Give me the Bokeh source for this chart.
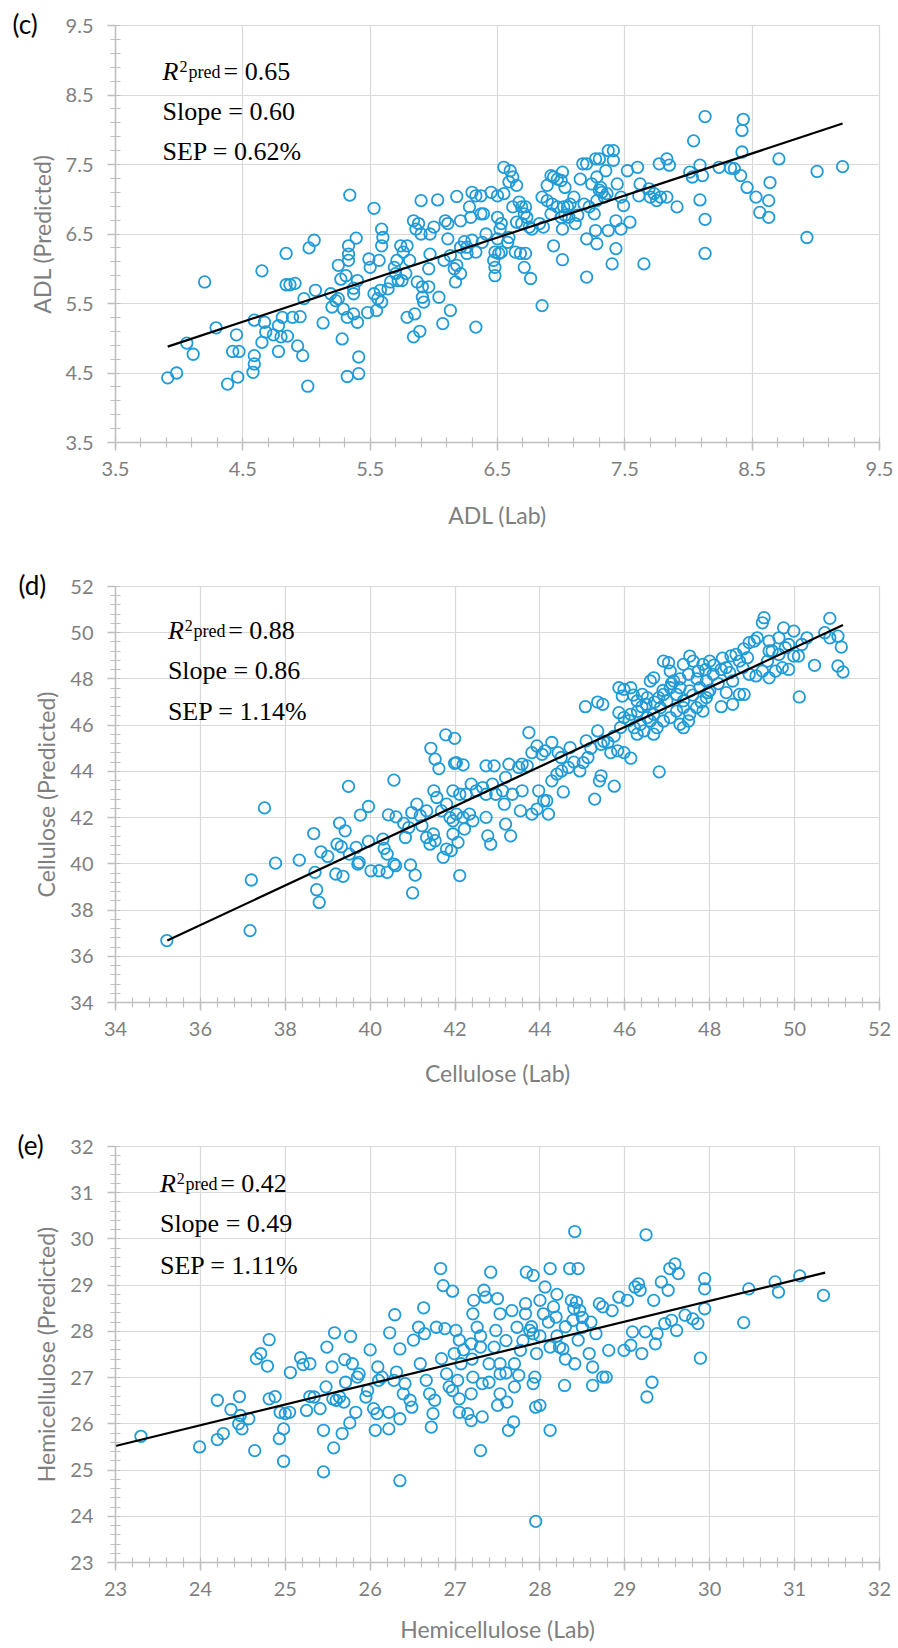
import numpy as np
from bokeh.plotting import figure
from bokeh.layouts import column
from bokeh.models import FixedTicker, Label, Range1d
from bokeh.embed import file_html
from bokeh.resources import INLINE

# ---------------- data: panel (c) ADL ----------------
c_lab = [3.91,3.98,4.06,4.11,4.20,4.29,4.38,4.46,4.42,4.47,
         4.45,4.58,4.59,4.59,4.59,4.65,4.65,4.67,4.68,4.74,
         4.78,4.80,4.81,4.85,4.84,4.84,4.87,4.91,4.78,4.89,
         4.95,4.93,4.97,5.01,4.98,5.02,5.06,5.07,5.13,5.20,
         5.23,5.19,5.25,5.25,5.27,5.31,5.33,5.33,5.33,5.39,
         5.34,5.28,5.29,5.32,5.37,5.40,5.32,5.41,5.41,5.37,
         5.40,5.37,5.48,5.53,5.49,5.50,5.57,5.53,5.56,5.58,
         5.55,5.59,5.59,5.60,5.59,5.64,5.66,5.70,5.71,5.74,
         5.76,5.79,5.81,5.69,5.72,5.75,5.78,5.79,5.85,5.84,
         5.89,5.90,5.84,5.88,5.86,5.90,5.87,5.91,5.96,5.91,
         5.92,5.97,6.00,5.97,5.96,6.03,6.04,6.07,6.09,6.11,
         6.11,6.08,6.13,6.16,6.18,6.21,6.17,6.13,6.18,6.21,
         6.24,6.21,
         6.26,6.28,6.30,6.33,6.37,6.29,6.37,6.39,6.41,6.38,
         6.33,6.26,6.30,6.45,6.50,6.55,6.55,6.60,6.62,6.65,
         6.59,6.33,6.50,6.53,6.52,6.50,6.48,6.51,6.47,6.48,
         6.48,6.53,6.59,6.58,6.62,6.67,6.69,6.72,6.71,6.73,
         6.65,6.69,6.75,6.77,6.83,6.85,6.86,6.64,6.68,6.72,
         6.71,6.76,6.94,7.01,6.85,6.89,6.92,6.94,6.97,7.00,
         7.01,7.03,6.89,6.93,6.97,7.02,7.05,7.07,7.10,6.92,
         7.00,7.03,7.01,7.06,7.11,7.13,7.15,7.17,7.20,7.24,
         7.27,7.30,7.28,7.35,7.37,7.41,7.41,7.31,7.32,7.34,
         7.36,7.30,7.28,7.18,7.22,7.26,7.27,7.20,7.28,7.37,
         7.44,7.47,7.49,7.43,7.47,7.43,7.40,7.20,7.54,7.52,
         7.60,7.62,7.61,7.69,7.70,7.73,7.75,7.78,7.77,7.83,
         7.85,7.83,7.91,7.65,8.04,8.13,8.01,8.03,8.09,8.11,
         8.09,8.13,8.13,8.24,8.33,8.36,8.41,8.42,8.42,8.43,
         8.46,8.53,8.56,8.63,8.63,8.64,8.71,8.93,9.01,9.21]
c_pred = [4.43,4.50,4.93,4.77,5.81,5.15,4.34,4.44,4.81,4.81,
          5.05,4.51,4.63,4.75,5.26,5.97,4.94,5.23,5.09,5.05,
          5.18,5.02,5.30,5.03,6.22,5.77,5.77,5.79,4.81,5.30,
          5.31,4.89,4.75,4.31,5.57,6.30,6.41,5.69,5.22,5.45,
          5.54,5.64,5.57,6.05,5.85,5.90,6.12,6.33,6.21,6.44,
          7.06,4.99,5.42,5.30,5.35,5.23,4.45,4.49,4.73,5.72,
          5.83,5.64,5.37,6.87,6.14,6.02,6.12,5.64,5.57,5.69,
          5.40,5.52,6.57,6.45,6.33,5.71,5.81,5.93,6.12,6.33,
          6.24,6.33,6.12,6.02,5.83,5.83,5.93,5.30,5.35,5.02,
          5.10,6.98,6.69,6.65,6.57,6.50,5.81,5.74,5.74,5.59,
          5.52,6.50,6.60,6.21,6.00,6.99,5.59,5.21,6.69,6.65,
          6.43,6.12,6.19,6.00,6.05,5.93,5.81,5.40,7.04,6.69,
          6.39,6.31,
          6.31,6.89,7.10,7.05,7.05,6.74,6.79,6.79,6.50,6.38,
          6.24,6.22,6.41,7.10,7.05,7.08,7.46,7.41,7.32,7.20,
          7.25,5.16,6.74,6.65,6.57,6.43,6.24,6.22,6.12,6.02,
          5.90,6.24,6.45,6.38,6.89,6.96,6.89,6.89,6.79,6.74,
          6.67,6.65,6.60,6.57,6.65,7.03,6.60,6.24,6.22,6.22,
          6.02,5.86,6.33,6.13,5.47,7.20,7.34,7.32,7.29,7.27,
          7.39,7.17,6.98,6.93,6.89,6.89,6.89,6.93,7.03,6.79,
          6.74,6.77,6.57,6.74,6.65,6.77,7.29,7.51,7.51,7.22,
          7.58,7.58,7.32,7.41,7.70,7.70,7.56,7.17,7.10,7.03,
          7.08,7.13,6.98,6.93,6.89,6.79,6.55,6.43,6.36,6.55,
          7.22,7.03,6.91,6.69,6.57,6.29,6.07,5.88,6.67,7.41,
          7.46,7.22,7.05,7.15,7.03,7.08,6.98,7.03,7.51,7.58,
          7.49,7.03,6.89,6.07,7.84,8.19,7.39,7.32,7.49,7.34,
          6.99,6.71,6.22,7.46,7.45,7.44,7.34,7.68,7.99,8.15,
          7.17,7.03,6.81,6.74,6.98,7.24,7.58,6.45,7.40,7.47]
c_fit_lab = [3.91, 9.21]
c_fit_pred = [4.88, 8.09]
c_ticks = [3.5, 4.5, 5.5, 6.5, 7.5, 8.5, 9.5]
c_tick_labels = ["3.5", "4.5", "5.5", "6.5", "7.5", "8.5", "9.5"]
c_stats = ["0.65", "0.60", "0.62%"]

# ---------------- data: panel (d) Cellulose ----------------
d_lab = [35.21,37.17,37.20,37.51,37.77,38.33,38.67,38.70,38.74,38.80,
         38.84,39.00,39.19,39.36,39.22,39.28,39.41,39.49,39.32,39.51,
         39.67,39.71,39.74,39.77,39.96,39.96,40.02,40.21,40.40,40.33,
         40.40,40.56,40.60,40.43,40.61,40.56,40.30,40.95,41.06,41.00,
         40.83,40.91,40.79,40.98,41.10,41.18,41.22,41.33,41.33,41.41,
         41.49,41.53,41.43,41.53,41.62,41.50,41.57,41.72,41.80,41.91,
         41.68,41.80,41.88,41.95,41.78,41.99,41.99,
         42.03,42.19,41.95,42.11,42.03,42.19,42.34,42.42,41.95,42.07,
         42.11,42.22,42.26,42.38,42.50,42.65,42.73,42.73,42.77,42.84,
         42.73,42.92,42.88,42.96,43.12,43.19,43.27,43.19,43.31,43.16,
         43.35,43.50,43.58,43.74,43.70,43.81,43.93,44.05,44.12,44.28,
         44.43,43.58,43.54,43.81,43.93,43.97,44.09,44.20,44.16,44.28,
         44.40,44.51,44.55,44.71,44.67,44.94,45.02,45.09,45.13,45.36,
         45.44,45.60,45.67,45.75,45.83,45.98,46.14,45.29,45.40,45.44,
         45.75,45.07,45.36,45.48,46.81,
         45.86,45.98,46.14,45.94,45.86,45.98,46.14,46.29,46.41,46.53,
         46.60,46.68,46.80,46.91,47.03,47.07,47.15,47.30,47.38,47.53,
         47.61,47.73,47.84,48.00,48.08,47.92,47.77,47.53,47.38,47.22,
         46.99,46.84,46.68,46.53,46.37,46.22,46.29,46.45,46.68,46.91,
         47.07,47.22,47.38,47.53,47.69,47.84,47.92,47.96,47.38,47.50,
         47.30,46.60,46.76,47.07,46.91,
         48.27,48.39,48.47,48.54,48.62,48.70,48.78,48.89,48.93,49.05,
         49.12,49.24,49.28,49.40,49.47,49.63,49.74,49.78,49.86,49.98,
         50.09,50.17,50.29,48.93,49.09,49.24,49.40,49.55,49.71,49.86,
         49.98,48.70,48.81,48.54,48.27,48.39,50.11,50.47,50.71,50.83,
         50.83,51.02,51.10,51.02,51.14,49.40,49.36,49.63,
         44.50,44.80,45.20,45.50,45.90,46.10,46.30,46.50,46.70,46.90,
         47.10,47.30,47.50,47.70,47.90,48.10,48.30,48.50,48.80,46.20,
         46.40,47.60,47.80,48.00,48.20]
d_pred = [36.68,37.11,39.30,42.42,40.03,40.16,41.31,39.63,38.88,38.33,
          40.52,40.32,39.56,39.46,40.85,41.76,41.43,43.35,40.74,40.42,
          40.71,39.99,40.06,42.11,42.48,40.97,39.70,39.70,39.63,40.67,
          40.42,39.99,39.92,42.12,42.03,43.62,41.07,39.95,39.51,38.74,
          41.14,41.57,41.75,42.22,42.58,42.08,41.65,42.29,41.14,40.85,
          41.29,41.00,45.00,44.53,44.12,43.16,42.87,40.28,40.64,40.57,
          42.29,42.58,42.00,41.86,45.58,45.43,44.35,
          44.38,44.28,43.16,43.01,42.15,42.01,42.15,41.86,41.29,40.93,
          39.49,41.50,43.01,43.45,43.16,43.30,43.01,42.01,41.21,40.85,
          44.24,44.24,43.45,43.01,43.16,43.74,44.31,41.72,41.21,42.58,
          43.01,44.17,44.31,45.68,44.24,44.81,45.10,44.74,44.89,45.25,
          44.81,43.16,42.29,42.15,42.37,43.16,42.73,42.15,42.73,43.59,
          43.88,44.02,43.11,45.03,44.17,44.02,44.38,45.32,44.60,45.75,
          45.17,45.25,44.81,45.53,44.89,44.81,44.57,42.80,43.59,43.81,
          43.36,46.80,47.00,46.90,43.98,
          47.62,47.55,47.62,47.26,46.54,46.33,46.47,47.05,47.33,47.19,
          47.91,48.05,47.19,48.77,48.70,48.34,47.91,47.62,48.63,48.99,
          48.77,48.34,48.63,48.77,48.20,47.91,47.62,47.48,47.05,47.33,
          47.05,46.76,46.47,46.33,46.04,45.89,45.61,45.75,45.61,46.18,
          46.33,46.61,46.76,46.47,46.76,46.61,47.19,47.41,45.89,46.18,
          46.04,46.18,45.89,47.62,47.33,
          48.41,48.49,48.27,47.91,49.06,48.77,48.49,48.92,49.57,49.64,
          49.78,50.43,50.65,49.64,49.21,49.78,50.21,49.35,49.49,50.07,
          48.99,49.49,49.78,48.20,48.13,48.34,48.05,48.34,48.49,48.41,
          48.99,47.33,47.33,46.90,46.80,47.41,47.22,48.59,50.00,49.78,
          50.62,49.85,49.38,48.56,48.30,49.21,48.77,49.06,
          44.60,44.40,45.00,45.30,45.90,46.20,46.60,46.90,47.00,47.50,
          47.80,48.00,48.20,48.00,48.40,48.60,48.90,49.00,49.30,47.30,
          46.80,47.30,47.00,47.50,47.80]
d_fit_lab = [35.22, 51.14]
d_fit_pred = [36.68, 50.33]
d_ticks = [34, 36, 38, 40, 42, 44, 46, 48, 50, 52]
d_tick_labels = ["34", "36", "38", "40", "42", "44", "46", "48", "50", "52"]
d_stats = ["0.88", "0.86", "1.14%"]

# ---------------- data: panel (e) Hemicellulose ----------------
e_lab = [23.30,23.99,24.20,24.27,24.20,24.36,24.46,24.47,24.49,24.57,
         24.45,24.64,24.66,24.71,24.79,24.81,24.81,24.88,24.94,25.00,
         25.05,24.98,24.93,24.98,25.06,25.18,25.21,25.29,25.25,25.29,
         25.34,25.41,25.45,25.48,25.49,25.45,25.55,25.58,25.56,25.60,
         25.57,25.64,25.69,25.71,25.67,25.70,25.77,25.76,25.79,25.83,
         25.85,25.87,25.95,25.97,26.00,26.04,26.08,26.06,26.09,26.10,
         26.14,26.22,26.22,26.23,26.28,26.29,26.31,26.35,26.35,26.35,
         26.39,26.41,26.47,26.49,26.51,26.57,26.59,26.63,26.64,26.66,
         26.70,26.72,26.74,26.76,26.78,26.83,26.84,26.88,26.86,26.93,26.90,
         26.97,27.01,27.05,26.99,27.07,27.03,26.97,27.05,27.05,27.15,
         27.19,27.19,27.21,27.32,27.32,27.30,27.22,27.21,27.26,27.19,
         27.30,27.34,27.36,27.42,27.48,27.50,27.53,27.46,27.53,27.53,
         27.53,27.50,27.61,27.63,27.69,27.67,27.73,27.77,27.75,27.83,
         27.83,27.84,27.92,27.88,27.92,27.96,27.94,27.92,27.95,28.00,
         27.95,28.06,28.00,28.04,28.12,28.12,28.12,28.16,28.19,28.23,
         28.27,28.29,28.35,28.45,28.41,28.37,28.43,28.39,28.47,28.45,
         28.41,28.50,28.58,28.62,28.62,28.66,28.70,28.74,28.74,28.78,
         28.81,28.85,28.93,28.99,29.03,29.07,29.09,29.12,29.16,29.18,
         29.20,29.24,29.26,29.25,29.32,29.34,29.36,29.38,29.43,29.51,
         29.53,29.59,29.63,29.47,29.55,29.61,29.71,29.80,29.86,29.89,
         29.94,29.94,29.94,30.40,30.46,30.77,30.81,31.06,31.34,
         27.10,27.30,27.40,27.60,27.70,27.80,28.00,28.10,28.20,28.30,
         28.50,28.60,28.20,27.90,27.60,27.40,27.20,28.40,28.30,27.70]
e_pred = [25.73,25.50,25.66,25.79,26.51,26.31,26.59,26.18,25.89,26.11,
          26.00,25.42,27.41,27.52,27.25,27.82,26.54,26.59,26.25,26.22,
          26.25,25.89,25.68,25.19,27.11,27.43,27.28,27.30,26.29,26.59,
          26.58,26.33,25.86,26.80,27.66,24.96,27.23,27.97,26.54,26.51,
          25.48,26.58,26.47,26.90,25.79,27.39,27.89,26.02,27.30,26.25,
          27.01,27.08,26.58,26.72,27.60,26.33,26.22,25.86,27.23,26.94,
          27.01,26.25,25.89,27.97,26.94,28.36,27.12,26.11,24.77,27.62,
          26.65,26.87,26.51,26.36,27.81,28.09,27.30,28.51,27.95,26.94,
          26.65,25.93,26.22,26.51,28.09,29.36,27.41,28.06,28.99,26.80,27.08,
          28.87,28.02,27.81,27.52,27.30,26.94,26.72,26.54,26.25,26.22,
          26.07,26.65,27.01,26.87,26.15,25.42,28.67,28.38,28.09,27.73,
          27.66,28.89,28.74,29.28,28.02,28.71,28.38,27.66,27.30,27.08,
          26.65,26.40,26.47,25.86,26.04,28.45,28.09,27.59,27.05,28.60,
          28.38,29.28,29.21,28.02,27.95,27.52,27.01,26.87,26.36,26.40,
          23.89,28.96,28.67,28.38,29.36,27.66,25.86,28.53,28.31,27.66,
          27.62,26.83,29.36,29.36,30.16,28.67,28.63,28.24,28.45,27.81,
          27.30,28.09,27.52,27.23,26.83,27.95,28.60,28.53,27.01,27.01,
          27.59,28.45,28.74,27.59,28.67,27.70,27.99,28.96,29.03,28.89,
          27.52,27.99,26.58,30.09,26.90,28.67,27.73,27.95,29.07,28.89,
          29.36,29.46,29.25,28.17,28.24,28.02,28.35,28.27,28.17,27.42,
          29.14,28.92,28.49,28.19,28.92,29.07,28.85,29.20,28.78,
          27.60,27.90,27.30,27.80,27.30,27.80,27.90,28.20,27.90,28.10,
          28.30,28.20,28.80,28.10,27.10,26.90,27.40,28.50,27.40,26.80]
e_fit_lab = [23.00, 31.36]
e_fit_pred = [25.52, 29.27]
e_ticks = [23, 24, 25, 26, 27, 28, 29, 30, 31, 32]
e_tick_labels = ["23", "24", "25", "26", "27", "28", "29", "30", "31", "32"]
e_stats = ["0.42", "0.49", "1.11%"]

# ---------------- styling ----------------
BLUE = "#1F9BD7"
GRID = "#D9D9D9"
AXIS = "#BFBFBF"
TXT = "#7F7F7F"
SANS = "Lato"
SERIF = "Liberation Serif"
FIG_W = 898


def make_panel(tag, lab, pred, fit_lab, fit_pred, ticks, tick_labels, stats,
               xtitle, ytitle, fig_top, fig_h, frame, text_left, baselines,
               x_label_standoff, x_title_standoff, y_title_standoff):
    left, top, right, bottom = frame
    lo, hi = ticks[0], ticks[-1]
    p = figure(width=FIG_W, height=fig_h,
               x_range=Range1d(lo, hi), y_range=Range1d(lo, hi),
               output_backend="svg", toolbar_location=None,
               x_axis_label=xtitle, y_axis_label=ytitle,
               min_border_left=left, min_border_right=FIG_W - right,
               min_border_top=top - fig_top,
               min_border_bottom=fig_top + fig_h - bottom)
    p.background_fill_color = "white"
    p.border_fill_color = "white"
    p.outline_line_color = GRID
    p.outline_line_width = 1.2

    # panel tag "(c)" etc. drawn as the plot title, pulled left/down beside the top tick
    p.title.text = tag
    p.title.align = "left"
    p.title.offset = 12 - left
    p.title.standoff = -29
    p.title.vertical_align = "bottom"
    p.title.text_font = SANS
    p.title.text_font_size = "26px"
    p.title.text_font_style = "normal"
    p.title.text_color = "black"

    step = ticks[1] - ticks[0]
    minor = [float(v) for v in np.round(np.arange(lo, hi + step / 10.0, step / 5.0), 6)]
    overrides = {}
    for t, s in zip(ticks, tick_labels):
        overrides[int(t) if float(t).is_integer() else float(t)] = s

    for ax in (p.xaxis[0], p.yaxis[0]):
        ax.ticker = FixedTicker(ticks=[float(t) for t in ticks], minor_ticks=minor)
        ax.major_label_overrides = overrides
        ax.axis_line_color = AXIS
        ax.axis_line_width = 1.5
        ax.major_tick_line_color = AXIS
        ax.major_tick_line_width = 1.5
        ax.major_tick_in = 0
        ax.major_tick_out = 8
        ax.minor_tick_line_color = AXIS
        ax.minor_tick_line_width = 1.2
        ax.minor_tick_in = 5
        ax.minor_tick_out = 5
        ax.major_label_text_font = SANS
        ax.major_label_text_font_size = "20px"
        ax.major_label_text_color = TXT
        ax.axis_label_text_font = SANS
        ax.axis_label_text_font_size = "23px"
        ax.axis_label_text_color = TXT
        ax.axis_label_text_font_style = "normal"
    p.xaxis.major_label_standoff = x_label_standoff
    p.xaxis.axis_label_standoff = x_title_standoff
    p.yaxis.major_label_standoff = 14
    p.yaxis.axis_label_standoff = y_title_standoff

    for g in (p.xgrid[0], p.ygrid[0]):
        g.ticker = FixedTicker(ticks=[float(t) for t in ticks])
        g.grid_line_color = GRID
        g.grid_line_width = 1.2

    p.scatter(lab, pred, marker="circle", size=11.5, fill_color=None,
              line_color=BLUE, line_width=1.8)
    p.line(fit_lab, fit_pred, line_color="black", line_width=2.2)

    def dx(px):
        return lo + (px - left) / (right - left) * (hi - lo)

    def dy(py):
        return hi - (py - top) / (bottom - top) * (hi - lo)

    def lab_at(px, py, text, font, size, style="normal", color="black"):
        p.add_layout(Label(x=dx(px), y=dy(py), text=text, text_font=font,
                           text_font_size=size, text_font_style=style,
                           text_color=color, text_align="left",
                           text_baseline="alphabetic"))

    b1, b2, b3 = [b - 6 for b in baselines]
    x0 = text_left
    lab_at(x0, b1, "R", SERIF, "26px", "italic")
    lab_at(x0 + 17, b1 - 5, "2", SERIF, "16px")
    lab_at(x0 + 26, b1, "pred", SERIF, "18px")
    lab_at(x0 + 61, b1, "= " + stats[0], SERIF, "26px")
    lab_at(x0, b2, "Slope = " + stats[1], SERIF, "26px")
    lab_at(x0, b3, "SEP = " + stats[2], SERIF, "26px")
    return p


pc = make_panel("(c)", c_lab, c_pred, c_fit_lab, c_fit_pred, c_ticks, c_tick_labels,
                c_stats, "ADL (Lab)", "ADL (Predicted)",
                fig_top=0, fig_h=548, frame=(115, 25, 879, 442),
                text_left=162, baselines=(77, 117, 157),
                x_label_standoff=11, x_title_standoff=22, y_title_standoff=7)
pd_ = make_panel("(d)", d_lab, d_pred, d_fit_lab, d_fit_pred, d_ticks, d_tick_labels,
                 d_stats, "Cellulose (Lab)", "Cellulose (Predicted)",
                 fig_top=548, fig_h=560, frame=(109, 586, 882, 1002),
                 text_left=162, baselines=(636, 676, 717),
                 x_label_standoff=11, x_title_standoff=20, y_title_standoff=7)
pe = make_panel("(e)", e_lab, e_pred, e_fit_lab, e_fit_pred, e_ticks, e_tick_labels,
                e_stats, "Hemicellulose (Lab)", "Hemicellulose (Predicted)",
                fig_top=1108, fig_h=540, frame=(110, 1146, 884, 1562),
                text_left=155, baselines=(1189, 1229, 1271),
                x_label_standoff=11, x_title_standoff=16, y_title_standoff=7)

layout = column(pc, pd_, pe, spacing=0)
open("out.html", "w").write(file_html(layout, INLINE))
